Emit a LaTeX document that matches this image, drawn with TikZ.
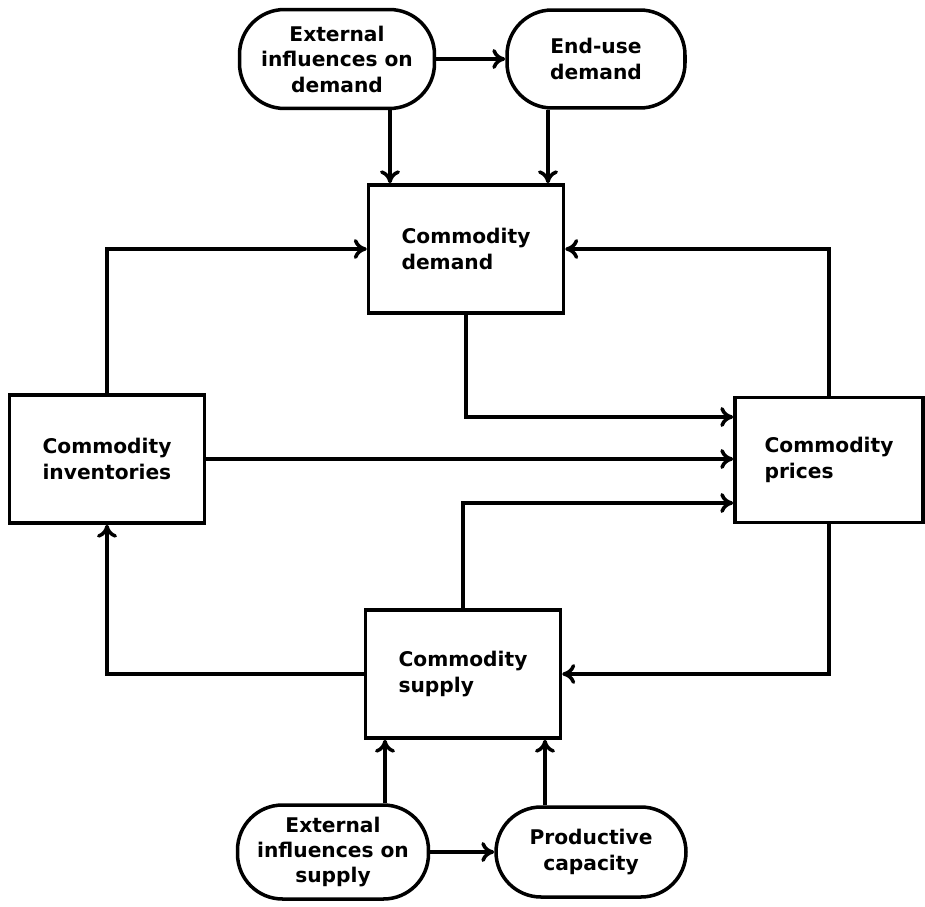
\documentclass[tikz,border=0pt]{standalone}
\usepackage{fontspec}
\setmainfont{DejaVu Sans}
\usetikzlibrary{calc, arrows.meta}

\begin{document}
\begin{tikzpicture}[x=0.02cm, y=-0.02cm, line width=2pt,
		>={To[length=2.6mm,width=4mm]},
		blk/.style={draw, align=left, minimum width=3.9cm, minimum height=2.56cm,
			font=\bfseries\fontsize{11.5}{14.5}\selectfont},
		pill/.style={draw, rounded corners=0.9cm, align=center,
			font=\bfseries\fontsize{11.5}{14.5}\selectfont}]
			\useasboundingbox (0,0) rectangle (925,906);
			% outer influences
			\node[pill, minimum width=3.9cm, minimum height=1.98cm] (extd) at (337,59) {External\\influences on\\demand};
			\node[pill, minimum width=3.56cm, minimum height=1.96cm] (enduse) at (596,59) {End-use\\demand};
			\node[pill, minimum width=3.82cm, minimum height=1.88cm] (exts) at (333,852) {External\\influences on\\supply};
			\node[pill, minimum width=3.8cm, minimum height=1.8cm] (prod) at (591,852) {Productive\\capacity};
			% market blocks
			\node[blk] (dem) at (466,249) {Commodity\\demand};
			\node[blk] (inv) at (107,459) {Commodity\\inventories};
			\node[blk, minimum width=3.76cm, minimum height=2.5cm] (pri) at (829,460) {Commodity\\prices};
			\node[blk] (sup) at (463,674) {Commodity\\supply};
			% links
			\coordinate (d1) at ($(dem.north)+(-76,0)$);
			\coordinate (d2) at ($(dem.north)+(82,0)$);
			\coordinate (s1) at ($(sup.south)+(-78,0)$);
			\coordinate (s2) at ($(sup.south)+(82,0)$);
			\draw[->] (extd.east) -- (enduse.west);
			\draw[->] (d1 |- extd.south) -- (d1);
			\draw[->] (d2 |- enduse.south) -- (d2);
			\draw[->] (inv.north) |- (dem.west);
			\draw[->] (pri.north) |- (dem.east);
			\draw[->] (dem.south) |- ($(pri.west)+(0,-43)$);
			\draw[->] (inv.east) -- (inv.east -| pri.west);
			\draw[->] (sup.north) |- ($(pri.west)+(0,43)$);
			\draw[->] (sup.west) -| (inv.south);
			\draw[->] (pri.south) |- (sup.east);
			\draw[->] (s1 |- exts.north) -- (s1);
			\draw[->] (s2 |- prod.north) -- (s2);
			\draw[->] (exts.east) -- (prod.west);
		\end{tikzpicture}
\end{document}
